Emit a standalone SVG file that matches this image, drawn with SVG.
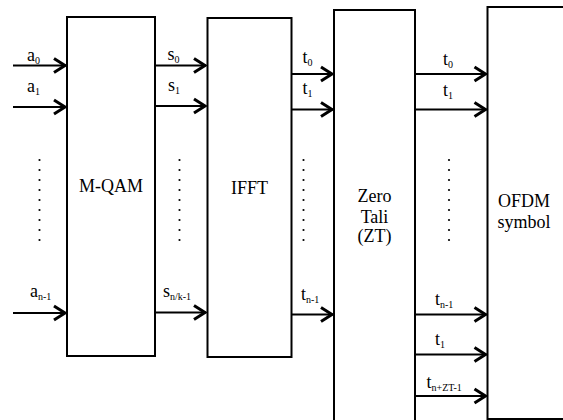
<svg xmlns="http://www.w3.org/2000/svg" width="563" height="420" viewBox="0 0 563 420">
<style>
.box{fill:#fff;stroke:#000;stroke-width:2}
.ln{stroke:#000;stroke-width:2;fill:none}
.sub{font-size:10px}
.dot{fill:#000}
</style>
<defs>
<marker id="ah" markerUnits="userSpaceOnUse" markerWidth="20" markerHeight="20" viewBox="-14 -10 16 20" refX="0" refY="0" orient="auto">
<path d="M-12,-7 L-1,0 L-12,7" fill="none" stroke="#000" stroke-width="3"/>
</marker>
<g id="dots">
<circle class="dot" cx="0" cy="160" r="1.1"/><circle class="dot" cx="0" cy="170" r="1.1"/><circle class="dot" cx="0" cy="180" r="1.1"/><circle class="dot" cx="0" cy="190" r="1.1"/><circle class="dot" cx="0" cy="200" r="1.1"/><circle class="dot" cx="0" cy="210" r="1.1"/><circle class="dot" cx="0" cy="220" r="1.1"/><circle class="dot" cx="0" cy="230" r="1.1"/><circle class="dot" cx="0" cy="240" r="1.1"/>
</g>
</defs>
<rect width="563" height="420" fill="#fff"/>

<g id="mqam">
<rect class="box" x="67" y="17" width="88" height="339"/>
<text x="111" y="192" font-family="Liberation Serif" font-size="18" text-anchor="middle">M-QAM</text>
</g>
<g id="ifft">
<rect class="box" x="207.5" y="18" width="84" height="339"/>
<text x="249.5" y="194" font-family="Liberation Serif" font-size="18" text-anchor="middle">IFFT</text>
</g>
<g id="zt">
<rect class="box" x="334" y="10" width="81" height="420"/>
<text x="374.5" y="202" font-family="Liberation Serif" font-size="18" text-anchor="middle">Zero</text>
<text x="374.5" y="223" font-family="Liberation Serif" font-size="18" text-anchor="middle">Tali</text>
<text x="374.5" y="242" font-family="Liberation Serif" font-size="18" text-anchor="middle">(ZT)</text>
</g>
<g id="ofdm">
<rect class="box" x="487.5" y="7" width="85" height="412"/>
<text x="524" y="207" font-family="Liberation Serif" font-size="18" text-anchor="middle">OFDM</text>
<text x="524" y="228" font-family="Liberation Serif" font-size="18" text-anchor="middle">symbol</text>
</g>

<g id="connectors">
<line class="ln" x1="13" y1="65.5" x2="66" y2="65.5" marker-end="url(#ah)"/>
<line class="ln" x1="13" y1="107" x2="66" y2="107" marker-end="url(#ah)"/>
<line class="ln" x1="13" y1="313" x2="66" y2="313" marker-end="url(#ah)"/>
<line class="ln" x1="155" y1="65.5" x2="206" y2="65.5" marker-end="url(#ah)"/>
<line class="ln" x1="155" y1="106" x2="206" y2="106" marker-end="url(#ah)"/>
<line class="ln" x1="155" y1="312.5" x2="206" y2="312.5" marker-end="url(#ah)"/>
<line class="ln" x1="291.5" y1="74" x2="333" y2="74" marker-end="url(#ah)"/>
<line class="ln" x1="291.5" y1="109.5" x2="333" y2="109.5" marker-end="url(#ah)"/>
<line class="ln" x1="291.5" y1="314.5" x2="333" y2="314.5" marker-end="url(#ah)"/>
<line class="ln" x1="415" y1="74" x2="486.5" y2="74" marker-end="url(#ah)"/>
<line class="ln" x1="415" y1="109.5" x2="486.5" y2="109.5" marker-end="url(#ah)"/>
<line class="ln" x1="415" y1="314.5" x2="486.5" y2="314.5" marker-end="url(#ah)"/>
<line class="ln" x1="415" y1="354.5" x2="486.5" y2="354.5" marker-end="url(#ah)"/>
<line class="ln" x1="415" y1="396" x2="486.5" y2="396" marker-end="url(#ah)"/>
</g>

<g id="labels" font-family="Liberation Serif" font-size="18">
<text x="27" y="61">a<tspan class="sub" dy="3">0</tspan></text>
<text x="27" y="92">a<tspan class="sub" dy="3">1</tspan></text>
<text x="30" y="297">a<tspan class="sub" dy="3">n-1</tspan></text>
<text x="167.5" y="60">s<tspan class="sub" dy="3">0</tspan></text>
<text x="168" y="91">s<tspan class="sub" dy="3">1</tspan></text>
<text x="163" y="297">s<tspan class="sub" dy="3">n/k-1</tspan></text>
<text x="302.5" y="63">t<tspan class="sub" dy="3">0</tspan></text>
<text x="302.5" y="94">t<tspan class="sub" dy="3">1</tspan></text>
<text x="301" y="300">t<tspan class="sub" dy="3">n-1</tspan></text>
<text x="443" y="65">t<tspan class="sub" dy="3">0</tspan></text>
<text x="443" y="96">t<tspan class="sub" dy="3">1</tspan></text>
<text x="435" y="305">t<tspan class="sub" dy="3">n-1</tspan></text>
<text x="435" y="345">t<tspan class="sub" dy="3">1</tspan></text>
<text x="426.5" y="388">t<tspan class="sub" dy="3">n+ZT-1</tspan></text>
</g>

<g id="ellipses">
<use href="#dots" x="39.5"/>
<use href="#dots" x="179.5"/>
<use href="#dots" x="303.5"/>
<use href="#dots" x="449"/>
</g>
</svg>
